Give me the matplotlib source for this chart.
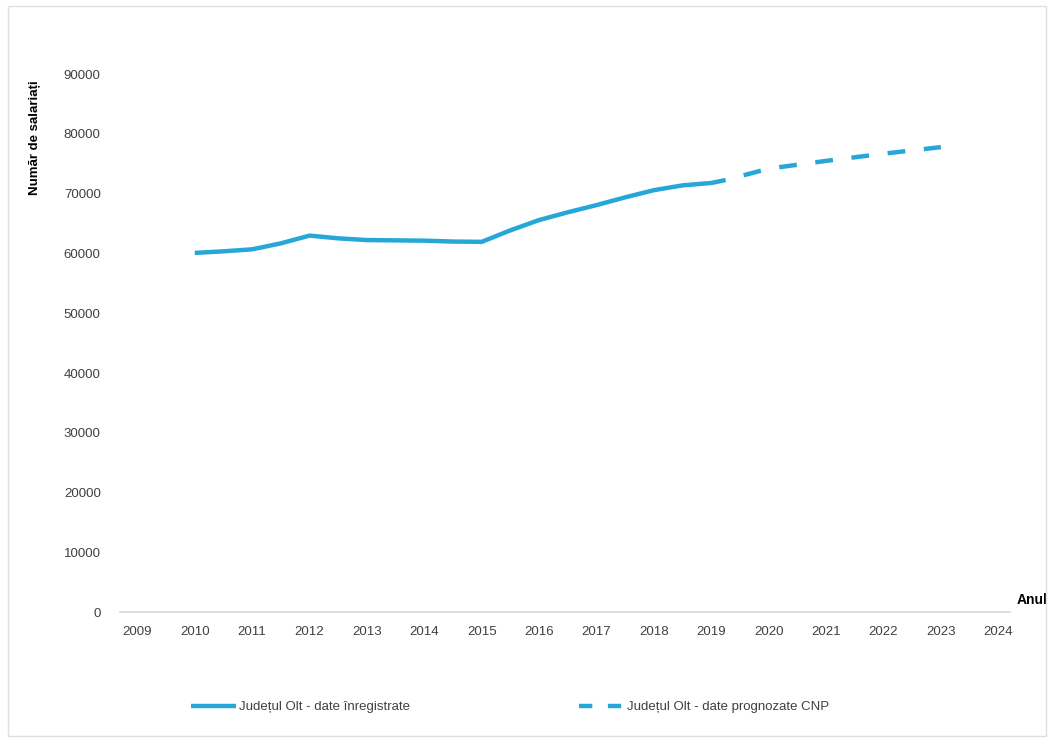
import matplotlib.pyplot as plt
from matplotlib.lines import Line2D
from matplotlib.patches import Rectangle

# date
ani_inreg = [2010, 2010.5, 2011, 2011.5, 2012, 2012.5, 2013, 2013.5, 2014, 2014.5,
             2015, 2015.5, 2016, 2016.5, 2017, 2017.5, 2018, 2018.5, 2019, 2019.25]
salariati_inreg = [60100, 60370, 60700, 61700, 63000, 62540, 62250, 62200, 62150, 62000,
                   61950, 63880, 65600, 66900, 68100, 69400, 70600, 71400, 71800, 72300]

ani_prog = [2019.25, 2020, 2021, 2022, 2023]
salariati_prog = [72300, 74200, 75500, 76700, 77800]

ani_ticks = list(range(2009, 2025))
y_ticks = list(range(0, 90001, 10000))

etichete = ['Județul Olt - date înregistrate', 'Județul Olt - date prognozate CNP']

culoare = '#27a7d8'
plt.rcParams['font.family'] = ['Liberation Sans', 'DejaVu Sans']

fig = plt.figure(figsize=(10.54, 7.42), dpi=100)
ax = fig.add_axes([0.114, 0.175, 0.844, 0.725])

ax.plot(ani_inreg, salariati_inreg, color=culoare, lw=3.2, solid_capstyle='butt')
ax.plot(ani_prog, salariati_prog, color=culoare, lw=3.2, dash_capstyle='butt',
        linestyle=(4, (4, 4.2)))

ax.set_xlim(2008.7, 2024.2)
ax.set_ylim(0, 90000)
ax.set_xticks(ani_ticks)
ax.set_yticks(y_ticks)
ax.set_yticklabels([str(v) for v in y_ticks])
ax.tick_params(length=0, labelsize=9.5, colors='#404040', pad=10)
ax.tick_params(axis='y', pad=14)

for s in ['top', 'right', 'left']:
    ax.spines[s].set_visible(False)
ax.spines['bottom'].set_color('#d9d9d9')
ax.spines['bottom'].set_linewidth(1.2)

ax.text(1.008, 0.01, 'Anul', transform=ax.transAxes, fontsize=10,
        fontweight='bold', ha='left', va='bottom')
fig.text(0.033, 0.815, 'Număr de salariați', rotation=90, fontsize=9.5,
         fontweight='bold', ha='center', va='center')

# legenda: linia punctata incepe cu liniuta
h1 = Line2D([], [], color=culoare, lw=3.2, solid_capstyle='butt')
h2 = Line2D([], [], color=culoare, lw=3.2, dash_capstyle='butt', linestyle=(0, (3, 3.5)))
fig.legend([h1, h2], etichete, loc='center', bbox_to_anchor=(0.484, 0.047), ncol=2,
           frameon=False, fontsize=9.5, handlelength=3.4, handletextpad=0.25,
           columnspacing=12.8, labelcolor='#404040')

fig.add_artist(Rectangle((0.008, 0.008), 0.984, 0.984, transform=fig.transFigure,
                         fill=False, edgecolor='#e0e0e0', lw=1))

fig.savefig('out.png', dpi=100)
